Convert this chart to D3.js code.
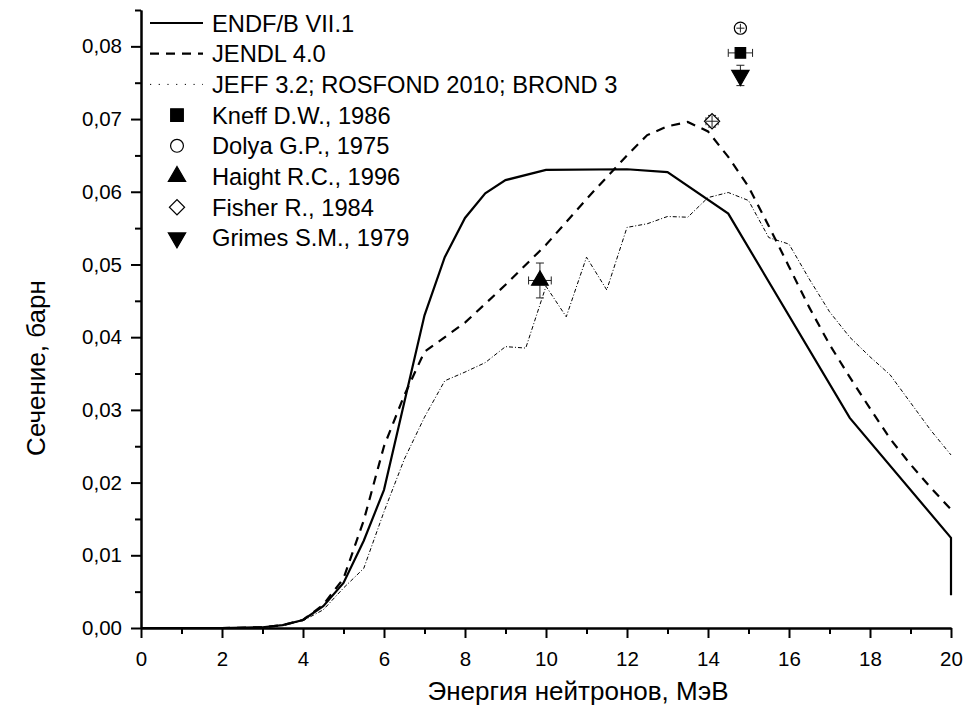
<!DOCTYPE html>
<html>
  <head>
    <meta charset="UTF-8" />
    <title>Сечение реакции</title>
    <script src="https://d3js.org/d3.v7.min.js"></script>
    <style>
      body {
        margin: 0;
        background-color: #fff;
        font-family: "Liberation Sans", Arial, sans-serif;
      }
      .axis path,
      .axis line {
        stroke: #000;
        stroke-width: 2px;
      }
      .axis text {
        font-family: "Liberation Sans", Arial, sans-serif;
        font-size: 20.5px;
        fill: #000;
      }
      .legend text {
        font-size: 23.7px;
      }
    </style>
  </head>
  <body>
    <div id="chart"></div>

    <script>
      // ENDF/B VII.1
      const endfEnergy = [0, 1, 2, 3, 3.5, 4, 4.5, 5, 5.5, 6, 6.5, 7, 7.5, 8, 8.5, 9, 10, 12, 13, 14.5, 17.5, 20, 20];
      const endfSigma = [0, 0, 0, 0.0001, 0.0004, 0.0011, 0.003, 0.0062, 0.012, 0.019, 0.031, 0.043, 0.051, 0.0564, 0.0598, 0.0616, 0.063, 0.0631, 0.0627, 0.057, 0.0289, 0.0124, 0.0045];

      // JENDL 4.0
      const jendlEnergy = [0, 1, 2, 3, 3.5, 4, 4.5, 5, 5.5, 6, 6.5, 7, 8, 9, 10, 11, 12, 12.5, 13, 13.5, 14, 14.5, 15, 15.5, 16, 16.5, 17, 17.5, 18, 18.5, 19, 19.5, 20];
      const jendlSigma = [0, 0, 0, 0.0001, 0.0004, 0.0011, 0.0032, 0.0068, 0.0148, 0.025, 0.032, 0.038, 0.042, 0.0472, 0.0527, 0.059, 0.065, 0.0678, 0.069, 0.0696, 0.0683, 0.0648, 0.0607, 0.0553, 0.0497, 0.0441, 0.039, 0.0345, 0.0302, 0.026, 0.0225, 0.0193, 0.0163];

      // JEFF 3.2; ROSFOND 2010; BROND 3
      const jeffEnergy = [0, 1, 2, 3, 3.5, 4, 4.5, 5, 5.5, 6, 6.5, 7, 7.5, 8, 8.5, 9, 9.5, 10, 10.5, 11, 11.5, 12, 12.5, 13, 13.5, 14, 14.5, 15, 15.5, 16, 16.5, 17, 17.5, 18, 18.5, 19, 19.5, 20];
      const jeffSigma = [0, 0, 0, 0.0001, 0.0004, 0.001, 0.0025, 0.0055, 0.0082, 0.016, 0.0232, 0.029, 0.034, 0.0352, 0.0365, 0.0387, 0.0385, 0.047, 0.0428, 0.051, 0.0465, 0.0551, 0.0556, 0.0566, 0.0565, 0.0592, 0.0599, 0.0588, 0.0537, 0.0528, 0.048, 0.0435, 0.04, 0.0373, 0.0348, 0.031, 0.0272, 0.0238];

      // experiments
      const expNames = ["Kneff D.W., 1986", "Dolya G.P., 1975", "Haight R.C., 1996", "Fisher R., 1984", "Grimes S.M., 1979"];
      const expEnergy = [14.8, 14.8, 9.85, 14.1, 14.8];
      const expSigma = [0.0791, 0.0825, 0.0478, 0.0697, 0.076];
      const expDE = [0.3, 0.1, 0.28, 0.15, 0];
      const expDS = [0.0005, 0.0006, 0.0024, 0.0008, 0.0014];

      const lineNames = ["ENDF/B VII.1", "JENDL 4.0", "JEFF 3.2; ROSFOND 2010; BROND 3"];

      const xTicks = d3.range(0, 21, 2);
      const yTicks = d3.range(0, 0.0801, 0.01);

      const width = 968;
      const height = 720;
      const margin = { left: 141, right: 17, top: 10, bottom: 92 };

      const svg = d3
        .select("#chart")
        .append("svg")
        .attr("width", width)
        .attr("height", height);

      const x = d3.scaleLinear().domain([0, 20]).range([margin.left, width - margin.right]);
      const y = d3.scaleLinear().domain([0, 0.085]).range([height - margin.bottom, margin.top]);

      const fmt = (d) => d3.format(".2f")(d).replace(".", ",");

      // axes: minor ticks first, then major with labels
      svg
        .append("g")
        .attr("class", "axis")
        .attr("transform", `translate(0,${y(0)})`)
        .call(d3.axisBottom(x).tickValues(d3.range(1, 20, 2)).tickSize(6).tickSizeOuter(0).tickFormat(""));
      svg
        .append("g")
        .attr("class", "axis")
        .attr("transform", `translate(0,${y(0)})`)
        .call(d3.axisBottom(x).tickValues(xTicks).tickSize(10).tickSizeOuter(0).tickPadding(13));

      svg
        .append("g")
        .attr("class", "axis")
        .attr("transform", `translate(${x(0)},0)`)
        .call(d3.axisLeft(y).tickValues(d3.range(0.005, 0.086, 0.01)).tickSize(6).tickSizeOuter(0).tickFormat(""));
      svg
        .append("g")
        .attr("class", "axis")
        .attr("transform", `translate(${x(0)},0)`)
        .call(d3.axisLeft(y).tickValues(yTicks).tickSize(10).tickSizeOuter(0).tickPadding(9).tickFormat(fmt));

      svg
        .append("text")
        .attr("x", 578)
        .attr("y", 700)
        .attr("text-anchor", "middle")
        .attr("font-size", 26)
        .text("Энергия нейтронов, МэВ");

      svg
        .append("text")
        .attr("transform", "translate(45,368) rotate(-90)")
        .attr("text-anchor", "middle")
        .attr("font-size", 26)
        .text("Сечение, барн");

      // curves
      const line = d3
        .line()
        .x((d) => x(d[0]))
        .y((d) => y(d[1]));

      const curves = [
        { e: endfEnergy, s: endfSigma, w: 2.2, dash: null },
        { e: jendlEnergy, s: jendlSigma, w: 2.2, dash: "9,7" },
        { e: jeffEnergy, s: jeffSigma, w: 1, dash: "4,2,1,2" },
      ];

      svg
        .append("g")
        .selectAll("path")
        .data(curves)
        .enter()
        .append("path")
        .attr("fill", "none")
        .attr("stroke", "#000")
        .attr("stroke-width", (d) => d.w)
        .attr("stroke-dasharray", (d) => d.dash)
        .attr("d", (d) => line(d.e.map((v, i) => [v, d.s[i]])));

      // experimental points (size on plot, size in legend)
      const symbols = [
        { type: d3.symbolSquare, size: 110, leg: 160, rot: 0, fill: "#000" },
        { type: d3.symbolCircle, size: 115, leg: 130, rot: 0, fill: "#fff" },
        { type: d3.symbolTriangle, size: 120, leg: 130, rot: 0, fill: "#000" },
        { type: d3.symbolSquare, size: 115, leg: 115, rot: 45, fill: "#fff" },
        { type: d3.symbolTriangle, size: 130, leg: 130, rot: 180, fill: "#000" },
      ];

      const pts = expNames.map((n, i) => ({
        e: expEnergy[i],
        s: expSigma[i],
        de: expDE[i],
        ds: expDS[i],
        sym: symbols[i],
      }));

      const bars = svg.append("g").attr("stroke", "#222").attr("stroke-width", 1);
      pts.forEach((p) => {
        const cx = x(p.e);
        const cy = y(p.s);
        if (p.de > 0) {
          bars.append("line").attr("x1", x(p.e - p.de)).attr("x2", x(p.e + p.de)).attr("y1", cy).attr("y2", cy);
          [p.e - p.de, p.e + p.de].forEach((v) => {
            bars.append("line").attr("x1", x(v)).attr("x2", x(v)).attr("y1", cy - 4).attr("y2", cy + 4);
          });
        }
        if (p.ds > 0) {
          bars.append("line").attr("x1", cx).attr("x2", cx).attr("y1", y(p.s + p.ds)).attr("y2", y(p.s - p.ds));
          [p.s - p.ds, p.s + p.ds].forEach((v) => {
            bars.append("line").attr("x1", cx - 4).attr("x2", cx + 4).attr("y1", y(v)).attr("y2", y(v));
          });
        }
      });

      function drawSymbol(g, sym, cx, cy, size) {
        g.append("path")
          .attr("d", d3.symbol().type(sym.type).size(size)())
          .attr("transform", `translate(${cx},${cy}) rotate(${sym.rot})`)
          .attr("fill", sym.fill)
          .attr("stroke", "#000")
          .attr("stroke-width", 1.2);
      }

      const marks = svg.append("g");
      pts.forEach((p) => drawSymbol(marks, p.sym, x(p.e), y(p.s), p.sym.size));

      // error bars over open symbols (drawn on top like in the original)
      const over = svg.append("g").attr("stroke", "#222").attr("stroke-width", 1);
      pts.filter((p) => p.sym.fill === "#fff").forEach((p) => {
        const cx = x(p.e);
        const cy = y(p.s);
        over.append("line").attr("x1", x(p.e - p.de)).attr("x2", x(p.e + p.de)).attr("y1", cy).attr("y2", cy);
        over.append("line").attr("x1", cx).attr("x2", cx).attr("y1", y(p.s + p.ds)).attr("y2", y(p.s - p.ds));
      });

      // legend
      const legend = svg.append("g").attr("class", "legend");
      const rowY = (i) => 23 + i * 30.7;

      curves.forEach((c, i) => {
        legend
          .append("line")
          .attr("x1", 150)
          .attr("x2", 203)
          .attr("y1", rowY(i))
          .attr("y2", rowY(i))
          .attr("stroke", "#000")
          .attr("stroke-width", c.w)
          .attr("stroke-dasharray", i === 2 ? "1.2,7.5" : c.dash);
      });

      symbols.forEach((s, i) => drawSymbol(legend, s, 177, rowY(i + 3), s.leg));

      lineNames.concat(expNames).forEach((n, i) => {
        legend
          .append("text")
          .attr("x", 212)
          .attr("y", rowY(i))
          .attr("dy", "0.36em")
          .text(n);
      });
    </script>
  </body>
</html>
